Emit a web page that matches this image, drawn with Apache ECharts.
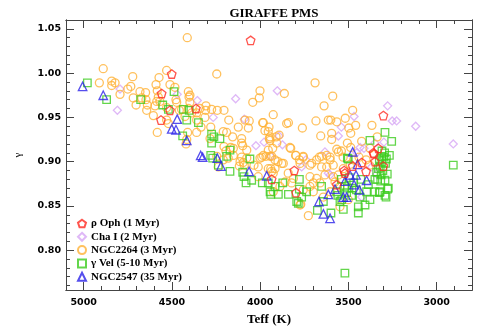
<!DOCTYPE html>
<html>
<head>
<meta charset="utf-8">
<script src="https://cdn.jsdelivr.net/npm/echarts@6/dist/echarts.min.js"></script>
<style>
  html, body { margin: 0; padding: 0; background: #fff; }
  #main { width: 491px; height: 333px; }
</style>
</head>
<body>
<div id="main"></div>
<script>
// [Teff, gamma] per cluster
const rhoOph = [
  [4054, 1.037], [4501, 0.999], [4558, 0.977], [4511, 0.958], [4562, 0.947], [4364, 0.960],
  [3935, 0.880], [3302, 0.952], [3331, 0.915], [3359, 0.910], [3350, 0.900], [3302, 0.895],
  [3476, 0.895], [3425, 0.899], [3400, 0.889], [3520, 0.887], [3566, 0.874], [3797, 0.865],
  [3807, 0.890], [3355, 0.909], [3524, 0.890]
];
const chaI = [
  [4794, 0.982], [4809, 0.958], [4470, 0.976], [4356, 0.969], [4266, 0.950], [4139, 0.971],
  [4090, 0.948], [3978, 0.922], [3940, 0.906], [3903, 0.980], [4024, 0.918], [3468, 0.951],
  [3278, 0.963], [3252, 0.946], [3227, 0.946], [3119, 0.940], [2906, 0.920], [3540, 0.939],
  [3557, 0.929], [3893, 0.929], [3874, 0.919], [3741, 0.902], [3633, 0.911], [3453, 0.910],
  [3434, 0.916], [3412, 0.915], [3350, 0.921], [3299, 0.922], [3765, 0.894], [3604, 0.885],
  [3369, 0.894], [3614, 0.887], [3340, 0.886], [3425, 0.860]
];
const ngc2264 = [
  [4413, 1.040], [4889, 1.005], [4911, 0.989], [4841, 0.991], [4822, 0.989], [4841, 0.986],
  [4794, 0.976], [4750, 0.982], [4733, 0.985], [4722, 0.996], [4719, 0.972], [4703, 0.964],
  [4681, 0.979], [4671, 0.972], [4649, 0.978], [4647, 0.970], [4639, 0.964], [4643, 0.958],
  [4605, 0.952], [4590, 0.987], [4573, 0.995], [4583, 0.980], [4577, 0.973], [4586, 0.968],
  [4596, 0.963], [4568, 0.968], [4530, 1.003], [4511, 0.987], [4483, 0.984], [4477, 0.970],
  [4473, 0.967], [4530, 0.961], [4530, 0.947], [4583, 0.933], [4520, 0.943], [4458, 0.958],
  [4407, 0.979], [4398, 0.975], [4403, 0.973], [4398, 0.967], [4407, 0.960], [4445, 0.959],
  [4426, 0.951], [4388, 0.955], [4411, 0.933], [4416, 0.925], [4420, 0.920], [4360, 0.933],
  [4360, 0.947], [4360, 0.955], [4341, 0.960], [4307, 0.963], [4309, 0.958], [4275, 0.959],
  [4313, 0.950], [4246, 0.999], [4243, 0.958], [4205, 0.958], [4178, 0.947], [4209, 0.934],
  [4190, 0.933], [4156, 0.928], [4152, 0.915], [4124, 0.939], [4105, 0.926], [4105, 0.921],
  [4099, 0.918], [4086, 0.947], [4067, 0.938], [4076, 0.913], [4062, 0.946], [4042, 0.967],
  [4001, 0.980], [4005, 0.972], [3986, 0.944], [3973, 0.935], [3950, 0.939], [3926, 0.953],
  [3944, 0.928], [3948, 0.926], [3954, 0.913], [3967, 0.906], [3944, 0.906], [3910, 0.928],
  [3906, 0.921], [4035, 0.896], [4011, 0.894], [4114, 0.900], [4118, 0.895], [4096, 0.899],
  [4105, 0.905], [4076, 0.904], [4152, 0.907], [4167, 0.916], [4205, 0.917], [4194, 0.912],
  [4237, 0.894], [4209, 0.902], [4181, 0.904], [4284, 0.926], [4280, 0.939], [4335, 0.939],
  [4246, 0.906], [4090, 0.896], [4011, 0.883], [3991, 0.905], [3954, 0.892], [3940, 0.892],
  [3926, 0.887], [3899, 0.900], [3926, 0.866], [3689, 0.989], [3863, 0.977], [3589, 0.974],
  [3638, 0.963], [3476, 0.958], [3684, 0.946], [3614, 0.947], [3600, 0.947], [3566, 0.945],
  [3518, 0.949], [3459, 0.941], [3367, 0.941], [3498, 0.938], [3487, 0.932], [3595, 0.932],
  [3595, 0.925], [3657, 0.929], [3761, 0.938], [3850, 0.943], [3840, 0.944], [3893, 0.930],
  [3954, 0.934], [3982, 0.944], [3944, 0.924], [3929, 0.915], [3831, 0.916], [3799, 0.907],
  [3756, 0.905], [3665, 0.905], [3604, 0.905], [3557, 0.911], [3566, 0.914], [3540, 0.912],
  [3506, 0.921], [3487, 0.916], [3425, 0.923], [3378, 0.915], [3337, 0.928], [3774, 0.898],
  [3982, 0.907], [3935, 0.906], [4001, 0.904], [3916, 0.902], [3878, 0.898], [3916, 0.892],
  [3935, 0.889], [3841, 0.887], [3778, 0.902], [3756, 0.906], [3718, 0.896], [3680, 0.902],
  [3652, 0.906], [3623, 0.907], [3604, 0.902], [3586, 0.896], [3623, 0.894], [3718, 0.883],
  [3680, 0.881], [3633, 0.885], [3661, 0.876], [3718, 0.872], [3699, 0.866], [3756, 0.868],
  [3822, 0.876], [3812, 0.881], [3859, 0.877], [3888, 0.872], [3770, 0.852], [3727, 0.839],
  [3548, 0.872], [3576, 0.877], [3557, 0.885], [3529, 0.892], [3604, 0.866], [3642, 0.860],
  [3501, 0.857], [3548, 0.849], [3708, 0.898], [3652, 0.894], [3586, 0.883], [3699, 0.876],
  [3774, 0.851], [3827, 0.915], [3797, 0.907], [3869, 0.898], [3400, 0.902], [3380, 0.896],
  [3440, 0.905], [3470, 0.902], [3530, 0.905], [3490, 0.897]
];
const gammaVel = [
  [4979, 0.989], [4870, 0.970], [4677, 0.970], [4488, 0.979], [4552, 0.964], [4520, 0.959],
  [4435, 0.959], [4402, 0.958], [4416, 0.947], [4350, 0.944], [4439, 0.929], [4275, 0.931],
  [4262, 0.928], [4228, 0.926], [4275, 0.921], [4171, 0.913], [4190, 0.906], [4280, 0.907],
  [4269, 0.904], [4058, 0.903], [4237, 0.896], [4171, 0.889], [4099, 0.888], [4092, 0.883],
  [4048, 0.879], [4080, 0.876], [3988, 0.876], [3954, 0.876], [3944, 0.866], [3940, 0.863],
  [3916, 0.872], [3293, 0.933], [3378, 0.924], [3255, 0.923], [3268, 0.907], [3506, 0.904],
  [3312, 0.906], [2906, 0.896], [3520, 0.774], [3501, 0.903], [3872, 0.876], [3897, 0.863],
  [3840, 0.863], [3778, 0.880], [3778, 0.869], [3765, 0.860], [3784, 0.853], [3737, 0.866],
  [3652, 0.872], [3676, 0.845], [3599, 0.842], [3529, 0.846], [3548, 0.855], [3566, 0.866],
  [3506, 0.870], [3482, 0.862], [3444, 0.849], [3444, 0.842], [3406, 0.851], [3378, 0.857],
  [3397, 0.866], [3350, 0.866], [3325, 0.865], [3293, 0.862], [3278, 0.869], [3293, 0.879],
  [3317, 0.878], [3280, 0.886], [3387, 0.874], [3434, 0.860], [3300, 0.905], [3310, 0.900],
  [3320, 0.895], [3305, 0.890], [3315, 0.885], [3290, 0.898], [3330, 0.892], [3325, 0.902],
  [3340, 0.888], [3295, 0.910], [3285, 0.903], [3335, 0.880], [3310, 0.912], [3350, 0.880],
  [3540, 0.880], [3520, 0.872], [3495, 0.882], [3470, 0.876], [3455, 0.868], [3510, 0.865],
  [3560, 0.862], [3480, 0.870], [3430, 0.880], [3793, 0.855], [3642, 0.855], [3538, 0.857],
  [3321, 0.866], [3287, 0.860], [3274, 0.870]
];
const ngc2547 = [
  [5006, 0.985], [4889, 0.975], [4470, 0.948], [4501, 0.937], [4477, 0.936], [4416, 0.924],
  [4337, 0.907], [4326, 0.905], [4243, 0.904], [4222, 0.895], [4063, 0.889], [3963, 0.884],
  [3476, 0.911], [3448, 0.897], [3491, 0.885], [3457, 0.885], [3520, 0.878], [3468, 0.874],
  [3397, 0.879], [3438, 0.868], [3576, 0.869], [3614, 0.863], [3529, 0.860], [3510, 0.860],
  [3667, 0.855], [3642, 0.841], [3604, 0.836]
];

const seriesNames = ['ρ Oph (1 Myr)', 'Cha I (2 Myr)', 'NGC2264 (3 Myr)', 'γ Vel (5-10 Myr)', 'NGC2547 (35 Myr)'];

const xTicks = [5000, 4500, 4000, 3500, 3000];
const xMinorTicks = [5100, 4900, 4800, 4700, 4600, 4400, 4300, 4200, 4100, 3900, 3800, 3700, 3600, 3400, 3300, 3200, 3100, 2900, 2800];
const yTicks = [0.80, 0.85, 0.90, 0.95, 1.00, 1.05];
const yMinorTicks = [0.76, 0.77, 0.78, 0.79, 0.81, 0.82, 0.83, 0.84, 0.86, 0.87, 0.88, 0.89, 0.91, 0.92, 0.93, 0.94,
  0.96, 0.97, 0.98, 0.99, 1.01, 1.02, 1.03, 1.04];

const pentagon = 'path://M0,-1L0.951,-0.309L0.588,0.809L-0.588,0.809L-0.951,-0.309Z';
const axisColor = '#444';
const serif = 'Liberation Serif';

function xAx(pos, major, withLabel) {
  return {
    type: 'value', min: 2800, max: 5100, inverse: true, position: pos,
    axisLine: { show: true, onZero: false, lineStyle: { color: axisColor, width: 1 } },
    axisTick: { show: true, inside: true, length: major ? 8 : 4, customValues: major ? xTicks : xMinorTicks,
      lineStyle: { color: axisColor } },
    axisLabel: withLabel
      ? { show: true, customValues: xTicks, margin: 8, color: '#000', fontFamily: 'DejaVu Sans', fontWeight: 'bold', fontSize: 9.5,
          formatter: v => String(v) }
      : { show: false },
    splitLine: { show: false },
    name: withLabel ? 'Teff (K)' : '',
    nameLocation: 'middle', nameGap: 21,
    nameTextStyle: { fontFamily: serif, fontWeight: 'bold', fontSize: 13, color: '#000' }
  };
}
function yAx(pos, major, withLabel) {
  return {
    type: 'value', min: 0.755, max: 1.06, position: pos,
    axisLine: { show: true, onZero: false, lineStyle: { color: axisColor, width: 1 } },
    axisTick: { show: true, inside: true, length: major ? 8 : 4, customValues: major ? yTicks : yMinorTicks,
      lineStyle: { color: axisColor } },
    axisLabel: withLabel
      ? { show: true, customValues: yTicks, margin: 5, color: '#000', fontFamily: 'DejaVu Sans', fontWeight: 'bold', fontSize: 9.5,
          formatter: v => v.toFixed(2) }
      : { show: false },
    splitLine: { show: false },
    name: withLabel ? 'γ' : '',
    nameLocation: 'middle', nameGap: 42, nameRotate: 90,
    nameTextStyle: { fontFamily: serif, fontSize: 11, color: '#000' }
  };
}

function scatter(name, data, symbol, size, color) {
  return {
    name, type: 'scatter', data, symbol, symbolSize: size,
    itemStyle: { color: 'transparent', borderColor: color, borderWidth: 1.3 },
    emphasis: { disabled: true },
    xAxisIndex: 0, yAxisIndex: 0
  };
}

const chart = echarts.init(document.getElementById('main'), null, { renderer: 'canvas' });
chart.setOption({
  animation: false,
  backgroundColor: '#fff',
  title: {
    text: 'GIRAFFE PMS', left: 269, top: 2, textAlign: 'center',
    textStyle: { fontFamily: serif, fontWeight: 'bold', fontSize: 13, color: '#000' }
  },
  grid: { left: 66, right: 19, top: 20, bottom: 43 },
  legend: {
    orient: 'vertical', left: 77, top: 218, padding: 0, itemGap: 2.3,
    itemWidth: 8, itemHeight: 8,
    data: seriesNames,
    textStyle: { fontFamily: serif, fontWeight: 'bold', fontSize: 11, color: '#000' }
  },
  xAxis: [xAx('bottom', true, true), xAx('bottom', false, false), xAx('top', true, false), xAx('top', false, false)],
  yAxis: [yAx('left', true, true), yAx('left', false, false), yAx('right', true, false), yAx('right', false, false)],
  series: [
    scatter(seriesNames[1], chaI, 'diamond', 8, '#d7a6f5'),
    scatter(seriesNames[2], ngc2264, 'circle', 8, '#ffb236'),
    scatter(seriesNames[3], gammaVel, 'rect', 7.5, '#3ccc1e'),
    scatter(seriesNames[4], ngc2547, 'triangle', 8.5, '#2a22e8'),
    scatter(seriesNames[0], rhoOph, pentagon, 8.5, '#ff2a22')
  ]
});
</script>
</body>
</html>
